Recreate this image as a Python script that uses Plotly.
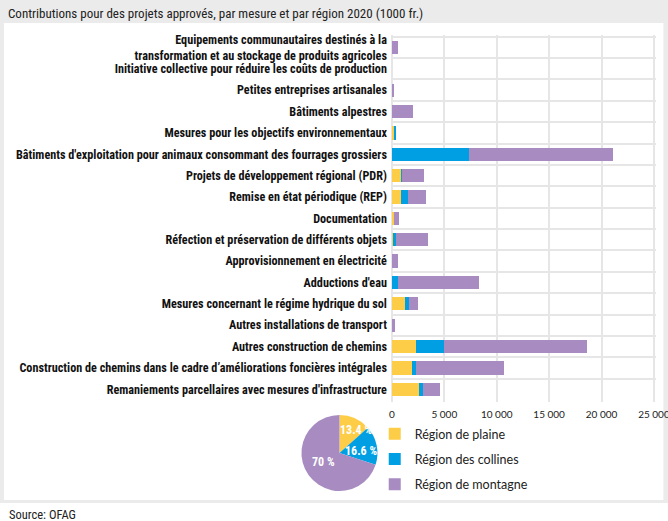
import plotly.graph_objects as go

categories = [
    "Equipements communautaires destinés à la<br>transformation et au stockage de produits agricoles",
    "Initiative collective pour réduire les coûts de production",
    "Petites entreprises artisanales",
    "Bâtiments alpestres",
    "Mesures pour les objectifs environnementaux",
    "Bâtiments d'exploitation pour animaux consommant des fourrages grossiers",
    "Projets de développement régional (PDR)",
    "Remise en état périodique (REP)",
    "Documentation",
    "Réfection et préservation de différents objets",
    "Approvisionnement en électricité",
    "Adductions d'eau",
    "Mesures concernant le régime hydrique du sol",
    "Autres installations de transport",
    "Autres construction de chemins",
    "Construction de chemins dans le cadre d’améliorations foncières intégrales",
    "Remaniements parcellaires avec mesures d'infrastructure",
]
plaine = [0, 0, 0, 0, 220, 0, 860, 890, 220, 60, 0, 0, 1270, 0, 2290, 1900, 2540]
collines = [30, 0, 0, 0, 160, 7400, 130, 670, 0, 350, 0, 600, 380, 0, 2700, 440, 440]
montagne = [510, 0, 130, 1970, 0, 13650, 2030, 1680, 480, 3020, 600, 7750, 830, 290, 13590, 8350, 1620]

series_names = ["Région de plaine", "Région des collines", "Région de montagne"]
colors = ["#FDCD48", "#009FE3", "#A78BC1"]
pie_values = [13.4, 16.6, 70]
pie_labels = ["13.4 %", "16.6 %", "70 %"]

x_ticks = [0, 5000, 10000, 15000, 20000, 25000]
x_ticktext = ["0", "5 000", "10 000", "15 000", "20 000", "25 000"]

W, H = 668, 521
ML, MR, MT, MB = 4, 12.4, 30, 26
PW = W - ML - MR
PH = H - MT - MB


def px_x(p):
    return (p - ML) / PW


def px_y(p):
    return (H - MB - p) / PH


cond = "Roboto Condensed, DejaVu Sans Condensed, sans-serif"
plain = "Lato, Open Sans, sans-serif"
grid = "#E6E6E6"
frame = "#EBEBEB"

fig = go.Figure()
for name, vals, col in zip(series_names, [plaine, collines, montagne], colors):
    fig.add_trace(go.Bar(
        y=categories, x=vals, name=name, orientation="h",
        marker=dict(color=col, line=dict(width=0)),
        legendgroup=name,
    ))

fig.add_trace(go.Pie(
    values=pie_values, textinfo="none",
    marker=dict(colors=colors, line=dict(width=0)),
    sort=False, direction="clockwise", rotation=0,
    domain=dict(x=[px_x(301), px_x(377.5)], y=[px_y(491), px_y(415)]),
    showlegend=False, hoverinfo="skip",
))

pie_label_pos = [(356, 430), (361, 451), (323, 462)]
annotations = [
    dict(text=t, xref="paper", yref="paper", x=px_x(px), y=px_y(py),
         xanchor="center", yanchor="middle", showarrow=False,
         font=dict(family=cond, size=12, color="white", weight="bold"))
    for t, (px, py) in zip(pie_labels, pie_label_pos)
]
annotations.append(
    dict(text="Source: OFAG", xref="paper", yref="paper",
         x=px_x(7), y=px_y(514), xanchor="left", yanchor="middle",
         showarrow=False, font=dict(family=cond, size=12.5, color="#222"))
)


def frame_rect(x0, x1, y0, y1):
    return dict(type="rect", xref="paper", yref="paper", layer="below",
                x0=px_x(x0), x1=px_x(x1), y0=px_y(y1), y1=px_y(y0),
                fillcolor=frame, line=dict(width=0))


fig.update_layout(
    width=W, height=H,
    margin=dict(l=ML, r=MR, t=MT, b=MB, autoexpand=False),
    paper_bgcolor="white", plot_bgcolor="white",
    barmode="stack", bargap=0.38,
    showlegend=True,
    legend=dict(
        x=px_x(374.5), y=px_y(419), xanchor="left", yanchor="top",
        orientation="v", traceorder="grouped", tracegroupgap=6,
        font=dict(family=plain, size=12.5, color="#222"),
        bgcolor="rgba(0,0,0,0)", borderwidth=0,
    ),
    title=dict(
        text="Contributions pour des projets approvés, par mesure et par région 2020 (1000 fr.)",
        x=8 / W, xref="container", xanchor="left",
        y=1 - 13.5 / H, yref="container", yanchor="middle",
        font=dict(family=cond, size=13, color="#222"),
    ),
    xaxis=dict(
        domain=[px_x(391.7), 1], range=[0, 25200], tickvals=x_ticks, ticktext=x_ticktext,
        showgrid=True, gridcolor=grid, gridwidth=2,
        zeroline=True, zerolinecolor=grid, zerolinewidth=2,
        showline=False, ticks="", fixedrange=True, ticklabelstandoff=5,
        ticklabeloverflow="allow",
        tickfont=dict(family=plain, size=10, color="#222"),
        anchor="y",
    ),
    yaxis=dict(
        domain=[px_y(401.7), px_y(35.0)], categoryorder="array", categoryarray=categories,
        range=[16.58, -0.58], tickson="boundaries", ticks="",
        showgrid=True, gridcolor=grid, gridwidth=2,
        showline=False, automargin=False, ticklabelstandoff=4, fixedrange=True,
        tickfont=dict(family=cond, size=12.2, color="#111", weight="bold"),
        anchor="x",
    ),
    shapes=[
        frame_rect(-5, 675, -5, 23),     # title bar
        frame_rect(-5, 4, -5, 503),      # left edge
        frame_rect(663, 675, -5, 503),   # right edge
        frame_rect(-5, 675, 500, 503),   # bottom edge
    ],
    annotations=annotations,
)

fig.write_html("out.html", config={"displayModeBar": False},
               post_script="document.body.style.margin='0';")
